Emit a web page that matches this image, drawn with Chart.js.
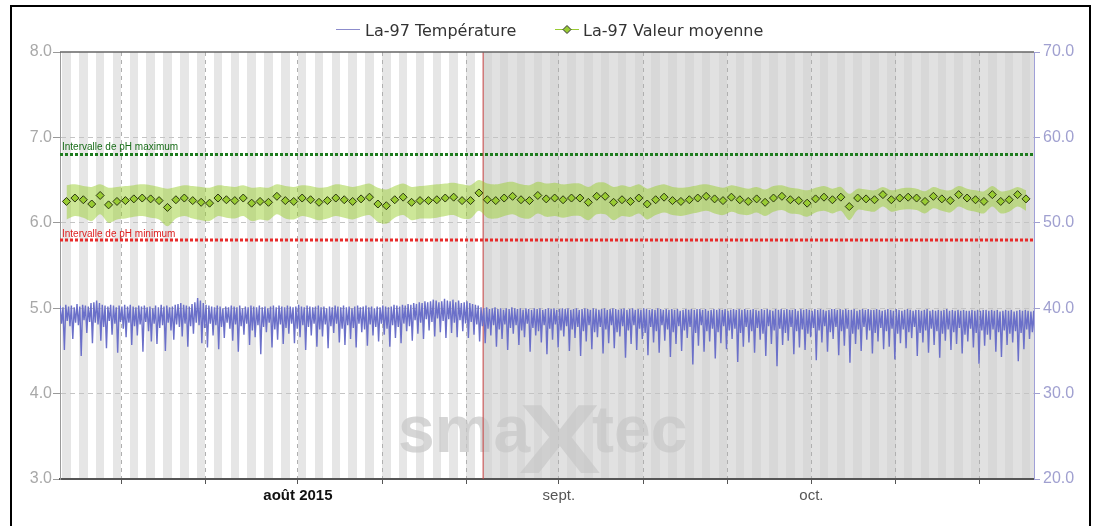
<!DOCTYPE html>
<html>
<head>
<meta charset="utf-8">
<script src="https://cdn.jsdelivr.net/npm/chart.js"></script>
<style>
  html, body { margin: 0; padding: 0; background: #fff; }
  #wrap { width: 1099px; height: 526px; }
</style>
</head>
<body>
<div id="wrap"><canvas id="chart" width="1099" height="526"></canvas></div>
<script>
// days are counted from 1 Aug 2015 (day 0)
const xMin = -28.27;
const xMax = 87.45;
const splitDay = 22;          // 23 Aug, red marker, shaded after it
const stripeStartDay = -28;   // 4 July, first shaded day

// x axis ticks (days from 1 Aug) and their labels
const tickDays = [-21, -11, 0, 10, 20, 31, 41, 51, 61, 71, 81];
const tickLabels = ['', '', 'août 2015', '', '', 'sept.', '', '', 'oct.', '', ''];

// pH limits
const phMax = 6.8;
const phMin = 5.8;

// daily mean pH (one per day, from 4 July at noon)
const meanStartDay = -27.5;
const meanValues = [
  6.25, 6.29, 6.27, 6.22, 6.32, 6.21, 6.25, 6.26, 6.28, 6.29,
  6.28, 6.26, 6.18, 6.27, 6.29, 6.26, 6.24, 6.23, 6.29, 6.27,
  6.26, 6.29, 6.23, 6.25, 6.24, 6.31, 6.26, 6.25, 6.29,
  6.27, 6.24, 6.26, 6.29, 6.27, 6.25, 6.28, 6.30, 6.22, 6.20, 6.27, 6.30, 6.24,
  6.26, 6.26, 6.27, 6.29, 6.30, 6.26, 6.26, 6.35, 6.27, 6.26, 6.29, 6.31,
  6.27, 6.26, 6.32, 6.28, 6.29, 6.27, 6.29, 6.29, 6.24, 6.31, 6.31, 6.24,
  6.27, 6.25, 6.29, 6.22, 6.27, 6.30, 6.26, 6.25, 6.27, 6.29, 6.31, 6.28, 6.26, 6.30,
  6.27, 6.25, 6.28, 6.24, 6.29, 6.31, 6.27, 6.26, 6.23, 6.28, 6.30, 6.27, 6.30, 6.19,
  6.29, 6.28, 6.27, 6.33, 6.27, 6.29, 6.30, 6.29, 6.25, 6.31, 6.28, 6.26, 6.33,
  6.29, 6.27, 6.25, 6.33, 6.25, 6.27, 6.33, 6.28
];
const upperValues = [
  6.44, 6.45, 6.43, 6.42, 6.45, 6.41, 6.42, 6.43, 6.44, 6.45,
  6.44, 6.42, 6.40, 6.42, 6.44, 6.43, 6.42, 6.41, 6.44, 6.43,
  6.42, 6.44, 6.41, 6.42, 6.41, 6.45, 6.43, 6.42, 6.44,
  6.43, 6.41, 6.42, 6.45, 6.44, 6.42, 6.44, 6.46, 6.41, 6.39, 6.43, 6.46, 6.42,
  6.43, 6.44, 6.45, 6.46, 6.47, 6.45, 6.44, 6.50, 6.46, 6.45, 6.47, 6.48,
  6.45, 6.44, 6.48, 6.46, 6.47, 6.45, 6.46, 6.46, 6.42, 6.47, 6.47, 6.42,
  6.44, 6.42, 6.45, 6.40, 6.43, 6.45, 6.42, 6.41, 6.42, 6.44, 6.45, 6.43, 6.41, 6.44,
  6.42, 6.40, 6.42, 6.39, 6.43, 6.44, 6.41, 6.40, 6.38, 6.41, 6.43, 6.40, 6.42, 6.34,
  6.40, 6.39, 6.38, 6.42, 6.38, 6.40, 6.41, 6.40, 6.37, 6.42, 6.39, 6.38, 6.43,
  6.40, 6.38, 6.37, 6.43, 6.37, 6.38, 6.42, 6.38
];
const lowerValues = [
  6.04, 6.08, 6.06, 6.02, 6.10, 6.00, 6.04, 6.05, 6.07, 6.08,
  6.06, 6.04, 5.96, 6.05, 6.08, 6.05, 6.03, 6.02, 6.08, 6.06,
  6.05, 6.08, 6.02, 6.04, 6.03, 6.10, 6.05, 6.04, 6.08,
  6.06, 6.03, 6.05, 6.08, 6.06, 6.04, 6.07, 6.09, 6.01, 5.99, 6.06, 6.09, 6.03,
  6.05, 6.05, 6.06, 6.08, 6.09, 6.05, 6.05, 6.14, 6.06, 6.05, 6.08, 6.10,
  6.06, 6.05, 6.11, 6.07, 6.08, 6.06, 6.08, 6.08, 6.03, 6.10, 6.10, 6.03,
  6.08, 6.07, 6.11, 6.04, 6.09, 6.12, 6.09, 6.08, 6.10, 6.12, 6.14, 6.11, 6.09, 6.13,
  6.10, 6.09, 6.12, 6.08, 6.13, 6.15, 6.11, 6.10, 6.07, 6.12, 6.14, 6.11, 6.14, 6.03,
  6.15, 6.14, 6.13, 6.19, 6.13, 6.15, 6.16, 6.15, 6.11, 6.17, 6.14, 6.12, 6.19,
  6.15, 6.13, 6.11, 6.19, 6.11, 6.13, 6.19, 6.14
];

// rumen temperature, one reading every 4 hours from 3 July 18:00
const tempStartDay = -28.25;
const tempStepDay = 1 / 6;
const tempValues = [
  40.3, 38.2, 40.1, 35.1, 40.4, 38.5, 40.2, 37.9, 40.3, 36.4, 40.1, 38.3,
  40.5, 38.0, 40.2, 34.4, 40.4, 38.6, 40.3, 37.1, 40.2, 38.4, 40.6, 35.9,
  40.7, 38.3, 40.9, 38.1, 40.6, 36.2, 40.4, 37.8, 40.3, 35.3, 40.2, 38.5,
  40.4, 36.9, 40.3, 38.2, 40.1, 34.8, 40.3, 38.4, 40.2, 37.6, 40.4, 36.6,
  40.2, 38.3, 40.4, 35.7, 40.2, 37.9, 40.1, 36.8, 40.3, 38.1, 40.2, 34.9,
  40.3, 38.4, 40.1, 37.3, 40.2, 36.1, 40.0, 38.2, 40.3, 35.8, 40.1, 37.7,
  40.4, 38.0, 40.2, 35.0, 40.3, 38.3, 40.1, 37.4, 40.2, 36.3, 40.4, 38.1,
  40.5, 37.8, 40.6, 36.7, 40.4, 38.2, 40.3, 35.5, 40.2, 37.9, 40.5, 37.0,
  40.7, 38.3, 41.2, 38.0, 40.9, 35.9, 40.6, 37.7, 40.4, 35.4, 40.3, 38.2,
  40.2, 36.8, 40.1, 38.0, 40.3, 35.2, 40.2, 37.8, 40.0, 36.5, 40.2, 38.3,
  40.1, 37.6, 40.3, 36.2, 40.2, 38.1, 40.1, 34.9, 40.3, 37.9, 40.0, 36.9,
  40.2, 38.2, 40.1, 35.7, 40.3, 37.4, 40.2, 36.6, 40.1, 38.0, 40.3, 34.6,
  40.1, 37.8, 40.2, 37.2, 40.0, 38.3, 40.2, 35.4, 40.3, 37.5, 40.1, 36.3,
  40.3, 38.1, 40.2, 35.8, 40.1, 37.7, 40.3, 37.0, 40.2, 38.2, 40.1, 35.9,
  40.2, 37.6, 40.4, 36.6, 40.2, 38.0, 40.1, 35.1, 40.3, 37.8, 40.2, 36.8,
  40.1, 38.2, 40.2, 35.5, 40.3, 37.5, 40.1, 36.7, 40.2, 38.1, 40.0, 35.3,
  40.2, 37.9, 40.1, 37.1, 40.3, 38.2, 40.2, 36.0, 40.1, 37.6, 40.3, 35.7,
  40.1, 38.0, 40.2, 36.4, 40.0, 37.7, 40.2, 35.4, 40.3, 38.2, 40.1, 37.2,
  40.2, 37.5, 40.3, 35.6, 40.1, 38.1, 40.2, 36.8, 40.0, 37.8, 40.2, 36.1,
  40.1, 38.2, 40.3, 36.9, 40.2, 37.6, 40.1, 35.5, 40.2, 38.0, 40.4, 36.5,
  40.3, 37.8, 40.2, 35.9, 40.4, 38.2, 40.3, 37.3, 40.5, 37.9, 40.4, 36.2,
  40.6, 38.6, 40.5, 37.0, 40.7, 38.3, 40.6, 36.4, 40.8, 38.7, 40.7, 37.4,
  40.8, 38.4, 41.0, 36.7, 40.9, 38.8, 40.7, 37.2, 40.8, 38.5, 41.1, 36.5,
  40.9, 38.7, 40.8, 37.1, 41.0, 38.3, 40.7, 36.6, 40.9, 38.6, 40.6, 37.3,
  40.7, 38.2, 40.8, 36.5, 40.6, 38.4, 40.5, 36.9, 40.4, 38.1, 40.3, 36.1,
  40.1, 37.9, 40.0, 35.9, 40.1, 37.6, 39.9, 36.8, 40.0, 38.0, 40.1, 35.5,
  39.9, 37.5, 40.0, 36.4, 39.8, 38.1, 40.0, 35.1, 39.9, 37.7, 40.1, 37.0,
  40.0, 38.0, 39.9, 35.7, 40.0, 37.4, 39.8, 36.6, 40.0, 38.2, 39.9, 34.9,
  39.8, 37.7, 40.0, 36.8, 39.9, 37.3, 40.0, 36.0, 39.8, 38.0, 39.9, 34.6,
  40.0, 37.6, 39.9, 36.3, 40.0, 38.1, 39.8, 35.4, 39.9, 37.4, 40.0, 36.7,
  39.9, 37.9, 40.0, 35.0, 39.8, 37.5, 39.9, 36.5, 40.0, 37.8, 39.8, 34.4,
  39.9, 37.3, 40.0, 36.1, 39.9, 38.0, 39.8, 35.2, 40.0, 37.2, 39.9, 36.6,
  39.8, 37.8, 39.9, 34.7, 40.0, 37.5, 39.8, 35.9, 39.9, 38.0, 40.0, 35.3,
  39.9, 37.2, 39.8, 36.7, 39.9, 37.9, 40.0, 34.2, 39.8, 37.4, 39.9, 35.8,
  40.0, 38.0, 39.8, 35.1, 39.9, 37.6, 39.8, 36.4, 40.0, 37.1, 39.9, 34.5,
  39.8, 37.8, 39.9, 36.0, 39.8, 37.3, 40.0, 34.8, 39.9, 38.0, 39.8, 36.2,
  39.9, 37.5, 39.8, 34.3, 39.9, 37.2, 39.8, 35.8, 39.9, 37.9, 39.7, 35.0,
  39.8, 37.4, 39.9, 36.5, 39.8, 37.8, 39.9, 33.4, 39.8, 37.1, 39.9, 35.6,
  39.9, 38.0, 39.8, 34.9, 39.9, 37.3, 39.7, 36.1, 39.8, 37.6, 39.9, 34.1,
  39.8, 37.2, 39.9, 35.9, 39.8, 37.9, 39.9, 35.2, 39.7, 37.4, 39.8, 36.4,
  39.9, 37.6, 39.8, 33.7, 39.9, 37.1, 39.8, 35.5, 39.9, 37.8, 39.8, 36.0,
  39.8, 37.3, 39.9, 34.8, 39.8, 37.7, 39.7, 36.3, 39.9, 37.0, 39.8, 34.4,
  39.9, 37.9, 39.8, 35.8, 39.7, 37.4, 39.9, 33.2, 39.8, 37.6, 39.9, 35.7,
  39.8, 37.1, 39.9, 36.2, 39.8, 37.8, 39.8, 34.6, 39.9, 37.3, 39.7, 35.4,
  39.9, 37.5, 39.8, 35.1, 39.9, 37.0, 39.8, 36.6, 39.7, 37.7, 39.9, 33.9,
  39.8, 37.4, 39.9, 36.0, 39.8, 37.9, 39.7, 34.9, 39.8, 37.2, 39.9, 36.4,
  39.9, 37.8, 39.8, 34.5, 39.9, 37.3, 39.8, 35.6, 39.9, 37.6, 39.8, 33.6,
  39.8, 37.0, 39.9, 35.8, 39.7, 37.5, 39.8, 35.0, 39.9, 37.8, 39.8, 36.3,
  39.9, 37.4, 39.8, 34.7, 39.8, 37.1, 39.9, 36.1, 39.8, 37.7, 39.7, 35.2,
  39.8, 37.3, 39.9, 35.5, 39.8, 37.6, 39.7, 34.0, 39.9, 37.0, 39.8, 35.9,
  39.7, 37.5, 39.8, 35.3, 39.9, 37.2, 39.8, 36.5, 39.7, 37.8, 39.8, 34.4,
  39.8, 37.1, 39.7, 36.0, 39.8, 37.4, 39.9, 34.8, 39.7, 37.6, 39.8, 35.7,
  39.7, 37.3, 39.8, 34.2, 39.7, 37.0, 39.8, 36.2, 39.9, 37.5, 39.7, 35.1,
  39.8, 37.2, 39.7, 35.8, 39.8, 37.7, 39.7, 34.7, 39.8, 36.9, 39.7, 36.1,
  39.7, 37.6, 39.8, 35.4, 39.7, 37.1, 39.8, 33.5, 39.7, 37.4, 39.8, 35.6,
  39.8, 36.9, 39.7, 36.3, 39.8, 37.5, 39.7, 34.9, 39.8, 37.2, 39.6, 34.3,
  39.7, 37.4, 39.8, 35.7, 39.7, 37.0, 39.8, 36.0, 39.6, 37.3, 39.7, 33.8,
  39.8, 37.1, 39.7, 35.2, 39.8, 37.5, 39.7, 36.4, 39.6, 37.2, 39.7, 35.5
];

const TEMP_COLOR = '#6b70c9';
const MEAN_COLOR = '#99cc33';

// background: every other day shaded, darker after the marker day
const stripes = {
  id: 'stripes',
  beforeDraw(chart) {
    const { ctx, chartArea: a, scales: { x } } = chart;
    ctx.save();
    for (let d = Math.floor(x.min); d < x.max; d++) {
      const x0 = Math.max(a.left, Math.round(x.getPixelForValue(d)));
      const x1 = Math.min(a.right, Math.round(x.getPixelForValue(d + 1)));
      if (x1 <= x0) continue;
      const odd = (((d - stripeStartDay) % 2) + 2) % 2 === 0;
      if (d >= splitDay) ctx.fillStyle = odd ? '#d8d8d8' : '#e1e1e1';
      else ctx.fillStyle = odd ? '#e6e6e6' : '#ffffff';
      ctx.fillRect(x0, a.top, x1 - x0, a.bottom - a.top);
    }
    ctx.restore();
  },
  beforeDatasetsDraw(chart) {
    // watermark
    const { ctx, chartArea: a } = chart;
    const cx = (a.left + a.right) / 2;
    ctx.save();
    ctx.fillStyle = 'rgba(200,200,200,0.75)';
    ctx.textBaseline = 'alphabetic';
    ctx.font = 'bold 66px "Liberation Sans"';
    ctx.fillText('sma', cx - 149, a.bottom - 27);
    ctx.fillText('tec', cx + 45, a.bottom - 27);
    ctx.save();
    ctx.translate(cx - 28, a.bottom - 6);
    ctx.scale(1.25, 1);
    ctx.font = 'bold 98px "Liberation Sans"';
    ctx.fillText('X', 0, 0);
    ctx.restore();
    ctx.restore();
  },
  afterDraw(chart) {
    const { ctx, chartArea: a, scales: { y } } = chart;
    ctx.save();
    // top frame of the plot
    ctx.strokeStyle = '#666';
    ctx.lineWidth = 1.5;
    ctx.beginPath();
    ctx.moveTo(a.left, a.top);
    ctx.lineTo(a.right, a.top);
    ctx.stroke();
    // limit labels
    ctx.font = '10px "Liberation Sans"';
    ctx.textBaseline = 'alphabetic';
    ctx.fillStyle = '#1a6e1a';
    ctx.fillText('Intervalle de pH maximum', a.left + 2, y.getPixelForValue(phMax) - 4);
    ctx.fillStyle = '#dd2222';
    ctx.fillText('Intervalle de pH minimum', a.left + 2, y.getPixelForValue(phMin) - 3);
    // legend
    const ds = chart.data.datasets;
    ctx.font = '16px "DejaVu Sans"';
    ctx.fillStyle = '#333';
    ctx.strokeStyle = '#8c8ccc';
    ctx.lineWidth = 1;
    ctx.beginPath(); ctx.moveTo(336, 29.5); ctx.lineTo(360, 29.5); ctx.stroke();
    ctx.fillText(ds[0].label, 365, 36);
    ctx.strokeStyle = MEAN_COLOR;
    ctx.beginPath(); ctx.moveTo(555, 29.5); ctx.lineTo(579, 29.5); ctx.stroke();
    ctx.beginPath();
    ctx.moveTo(567, 25.5); ctx.lineTo(571, 29.5); ctx.lineTo(567, 33.5); ctx.lineTo(563, 29.5);
    ctx.closePath();
    ctx.fillStyle = MEAN_COLOR; ctx.fill();
    ctx.strokeStyle = '#333'; ctx.stroke();
    ctx.fillStyle = '#333';
    ctx.fillText(ds[1].label, 583, 36);
    // outer frame
    ctx.strokeStyle = '#000';
    ctx.lineWidth = 2;
    ctx.strokeRect(11, 6, 1079, 560);
    ctx.restore();
  }
};

const tempData = tempValues.map((v, i) => ({ x: tempStartDay + i * tempStepDay, y: v }));
const meanData = meanValues.map((v, i) => ({ x: meanStartDay + i, y: v }));
const upperData = upperValues.map((v, i) => ({ x: meanStartDay + i, y: v }));
const lowerData = lowerValues.map((v, i) => ({ x: meanStartDay + i, y: v }));

new Chart(document.getElementById('chart'), {
  type: 'line',
  data: {
    datasets: [
      {
        label: 'La-97 Température', data: tempData, yAxisID: 'y1',
        borderColor: TEMP_COLOR, borderWidth: 1.4, pointRadius: 0, tension: 0
      },
      {
        label: 'La-97 Valeur moyenne', data: meanData, yAxisID: 'y',
        showLine: false, pointStyle: 'rectRot', pointRadius: 4,
        pointBackgroundColor: MEAN_COLOR, pointBorderColor: '#2b3510', pointBorderWidth: 1
      },
      {
        label: 'upper', data: upperData, yAxisID: 'y',
        borderWidth: 0, pointRadius: 0, tension: 0.3,
        fill: '+1', backgroundColor: 'rgba(150,205,40,0.48)'
      },
      {
        label: 'lower', data: lowerData, yAxisID: 'y',
        borderWidth: 0, pointRadius: 0, tension: 0.3
      },
      {
        label: 'marker', data: [{ x: splitDay, y: 3 }, { x: splitDay, y: 8 }], yAxisID: 'y',
        borderColor: '#c84040', borderWidth: 1, pointRadius: 0
      },
      {
        label: 'max', data: [{ x: xMin, y: phMax }, { x: xMax, y: phMax }], yAxisID: 'y',
        borderColor: '#1e7b1e', borderWidth: 3, borderDash: [3, 2], pointRadius: 0
      },
      {
        label: 'min', data: [{ x: xMin, y: phMin }, { x: xMax, y: phMin }], yAxisID: 'y',
        borderColor: '#e82a2a', borderWidth: 3, borderDash: [3, 2], pointRadius: 0
      }
    ]
  },
  options: {
    responsive: false,
    animation: false,
    devicePixelRatio: 1,
    layout: { padding: { top: 52, left: 0, right: 0, bottom: 0 } },
    plugins: { legend: { display: false }, tooltip: { enabled: false } },
    scales: {
      x: {
        type: 'linear', min: xMin, max: xMax,
        afterBuildTicks: (s) => { s.ticks = tickDays.map(v => ({ value: v })); },
        afterFit: (s) => { s.height = 47; },
        ticks: {
          autoSkip: false, maxRotation: 0, padding: 3,
          callback: (v) => { const i = tickDays.indexOf(v); return i < 0 ? '' : tickLabels[i]; },
          font: (c) => ({ family: 'Liberation Sans', size: 15, weight: c.tick && c.tick.value === 0 ? 'bold' : 'normal' }),
          color: (c) => (c.tick && c.tick.value === 0 ? '#111' : '#555')
        },
        grid: { color: '#b0b0b0', tickColor: '#555', tickLength: 5, tickBorderDash: [] },
        border: { color: '#555', width: 2, dash: [4, 4] }
      },
      y: {
        position: 'left', min: 3, max: 8,
        afterFit: (s) => { s.width = 60; },
        ticks: {
          stepSize: 1, padding: 1, color: '#a8a8a8',
          font: { family: 'Liberation Sans', size: 16 },
          callback: (v) => v.toFixed(1)
        },
        grid: {
          color: (c) => (c.tick && (c.tick.value === 8 || c.tick.value === 3) ? 'rgba(0,0,0,0)' : '#c4c4c4'),
          tickColor: '#999', tickLength: 7, tickBorderDash: []
        },
        border: { color: '#999', width: 1, dash: [5, 4] }
      },
      y1: {
        position: 'right', min: 20, max: 70,
        afterFit: (s) => { s.width = 65; },
        ticks: {
          stepSize: 10, padding: 3, color: '#a0a0d0',
          font: { family: 'Liberation Sans', size: 16 },
          callback: (v) => v.toFixed(1)
        },
        grid: { drawOnChartArea: false, tickColor: '#a0a0d0', tickLength: 6 },
        border: { color: '#a0a0d8', width: 1 }
      }
    }
  },
  plugins: [stripes]
});
</script>
</body>
</html>
